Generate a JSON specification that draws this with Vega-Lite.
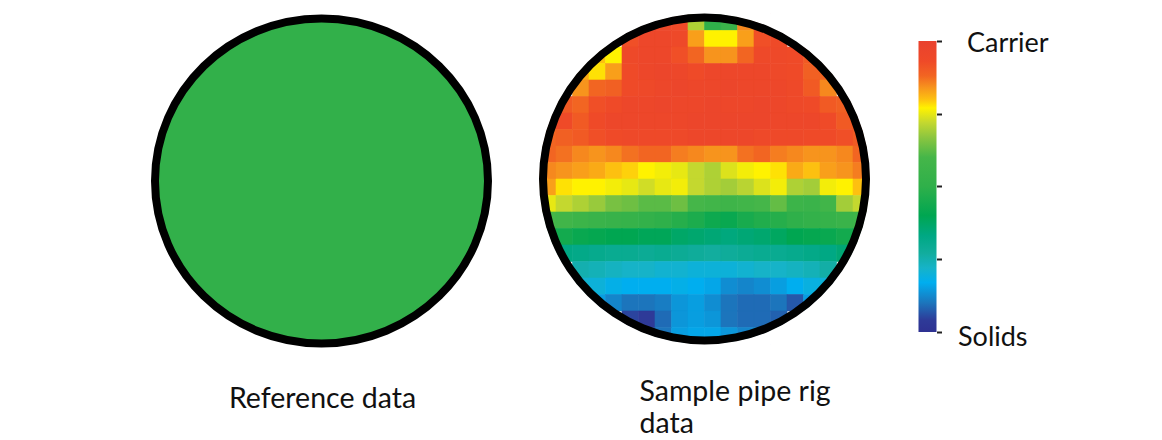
{
  "$schema": "https://vega.github.io/schema/vega-lite/v6.json",
  "background": "white",
  "padding": {"left": 148.5, "top": 0, "right": 0, "bottom": 0},
  "config": {"view": {"stroke": null}, "font": "Lato", "title": {"font": "Lato", "fontWeight": "normal", "color": "#111111", "fontSize": 28.5}},
  "spacing": 45,
  "bounds": "flush",
  "hconcat": [
    {
      "width": 346, "height": 334,
      "title": {"text": "Reference data", "orient": "bottom", "frame": "group", "dx": 1, "offset": 37},
      "data": {"values": [{"name": "reference"}]},
      "mark": {"type": "point", "shape": "M-1,0A1,0.976,0,1,1,1,0A1,0.976,0,1,1,-1,0Z", "size": 110889, "filled": true, "fill": "#32b04a", "stroke": "#000000", "strokeWidth": 8, "strokeJoin": "round", "opacity": 1, "fillOpacity": 1, "strokeOpacity": 1},
      "encoding": {}
    },
    {
      "spacing": 49,
      "bounds": "flush",
      "hconcat": [
        {
          "width": 330, "height": 330,
          "title": {"text": ["Sample pipe rig", "data"], "orient": "bottom", "frame": "group", "anchor": "start", "align": "left", "dx": 100, "offset": 20, "lineHeight": 32},
          "layer": [
            {
              "data": {"values": [
{"c":6,"r":0,"v":0.95},{"c":7,"r":0,"v":0.94},{"c":8,"r":0,"v":0.93},{"c":9,"r":0,"v":0.7},{"c":10,"r":0,"v":0.5},{"c":11,"r":0,"v":0.55},{"c":12,"r":0,"v":0.85},{"c":13,"r":0,"v":0.93},
{"c":5,"r":1,"v":0.92},{"c":6,"r":1,"v":0.95},{"c":7,"r":1,"v":0.95},{"c":8,"r":1,"v":0.94},{"c":9,"r":1,"v":0.83},{"c":10,"r":1,"v":0.77},{"c":11,"r":1,"v":0.77},{"c":12,"r":1,"v":0.83},{"c":13,"r":1,"v":0.92},{"c":14,"r":1,"v":0.93},
{"c":3,"r":2,"v":0.8},{"c":4,"r":2,"v":0.77},{"c":5,"r":2,"v":0.94},{"c":6,"r":2,"v":0.95},{"c":7,"r":2,"v":0.95},{"c":8,"r":2,"v":0.92},{"c":9,"r":2,"v":0.88},{"c":10,"r":2,"v":0.84},{"c":11,"r":2,"v":0.84},{"c":12,"r":2,"v":0.88},{"c":13,"r":2,"v":0.94},{"c":14,"r":2,"v":0.94},{"c":15,"r":2,"v":0.93},{"c":16,"r":2,"v":0.9},
{"c":2,"r":3,"v":0.82},{"c":3,"r":3,"v":0.78},{"c":4,"r":3,"v":0.83},{"c":5,"r":3,"v":0.93},{"c":6,"r":3,"v":0.95},{"c":7,"r":3,"v":0.96},{"c":8,"r":3,"v":0.95},{"c":9,"r":3,"v":0.93},{"c":10,"r":3,"v":0.95},{"c":11,"r":3,"v":0.95},{"c":12,"r":3,"v":0.95},{"c":13,"r":3,"v":0.95},{"c":14,"r":3,"v":0.94},{"c":15,"r":3,"v":0.93},{"c":16,"r":3,"v":0.89},{"c":17,"r":3,"v":0.88},
{"c":2,"r":4,"v":0.84},{"c":3,"r":4,"v":0.88},{"c":4,"r":4,"v":0.89},{"c":5,"r":4,"v":0.93},{"c":6,"r":4,"v":0.94},{"c":7,"r":4,"v":0.95},{"c":8,"r":4,"v":0.96},{"c":9,"r":4,"v":0.95},{"c":10,"r":4,"v":0.95},{"c":11,"r":4,"v":0.96},{"c":12,"r":4,"v":0.95},{"c":13,"r":4,"v":0.95},{"c":14,"r":4,"v":0.95},{"c":15,"r":4,"v":0.94},{"c":16,"r":4,"v":0.9},{"c":17,"r":4,"v":0.85},
{"c":1,"r":5,"v":0.9},{"c":2,"r":5,"v":0.88},{"c":3,"r":5,"v":0.92},{"c":4,"r":5,"v":0.93},{"c":5,"r":5,"v":0.95},{"c":6,"r":5,"v":0.95},{"c":7,"r":5,"v":0.96},{"c":8,"r":5,"v":0.95},{"c":9,"r":5,"v":0.95},{"c":10,"r":5,"v":0.96},{"c":11,"r":5,"v":0.95},{"c":12,"r":5,"v":0.95},{"c":13,"r":5,"v":0.96},{"c":14,"r":5,"v":0.95},{"c":15,"r":5,"v":0.94},{"c":16,"r":5,"v":0.93},{"c":17,"r":5,"v":0.9},{"c":18,"r":5,"v":0.89},
{"c":0,"r":6,"v":0.9},{"c":1,"r":6,"v":0.93},{"c":2,"r":6,"v":0.9},{"c":3,"r":6,"v":0.93},{"c":4,"r":6,"v":0.95},{"c":5,"r":6,"v":0.95},{"c":6,"r":6,"v":0.95},{"c":7,"r":6,"v":0.95},{"c":8,"r":6,"v":0.95},{"c":9,"r":6,"v":0.96},{"c":10,"r":6,"v":0.96},{"c":11,"r":6,"v":0.96},{"c":12,"r":6,"v":0.96},{"c":13,"r":6,"v":0.96},{"c":14,"r":6,"v":0.95},{"c":15,"r":6,"v":0.95},{"c":16,"r":6,"v":0.95},{"c":17,"r":6,"v":0.93},{"c":18,"r":6,"v":0.9},{"c":19,"r":6,"v":0.9},
{"c":0,"r":7,"v":0.88},{"c":1,"r":7,"v":0.89},{"c":2,"r":7,"v":0.9},{"c":3,"r":7,"v":0.92},{"c":4,"r":7,"v":0.93},{"c":5,"r":7,"v":0.94},{"c":6,"r":7,"v":0.94},{"c":7,"r":7,"v":0.94},{"c":8,"r":7,"v":0.94},{"c":9,"r":7,"v":0.95},{"c":10,"r":7,"v":0.95},{"c":11,"r":7,"v":0.95},{"c":12,"r":7,"v":0.95},{"c":13,"r":7,"v":0.94},{"c":14,"r":7,"v":0.94},{"c":15,"r":7,"v":0.94},{"c":16,"r":7,"v":0.93},{"c":17,"r":7,"v":0.93},{"c":18,"r":7,"v":0.92},{"c":19,"r":7,"v":0.9},
{"c":0,"r":8,"v":0.88},{"c":1,"r":8,"v":0.87},{"c":2,"r":8,"v":0.85},{"c":3,"r":8,"v":0.84},{"c":4,"r":8,"v":0.85},{"c":5,"r":8,"v":0.87},{"c":6,"r":8,"v":0.88},{"c":7,"r":8,"v":0.88},{"c":8,"r":8,"v":0.86},{"c":9,"r":8,"v":0.85},{"c":10,"r":8,"v":0.84},{"c":11,"r":8,"v":0.84},{"c":12,"r":8,"v":0.87},{"c":13,"r":8,"v":0.88},{"c":14,"r":8,"v":0.86},{"c":15,"r":8,"v":0.85},{"c":16,"r":8,"v":0.84},{"c":17,"r":8,"v":0.84},{"c":18,"r":8,"v":0.85},{"c":19,"r":8,"v":0.88},
{"c":0,"r":9,"v":0.85},{"c":1,"r":9,"v":0.84},{"c":2,"r":9,"v":0.83},{"c":3,"r":9,"v":0.82},{"c":4,"r":9,"v":0.8},{"c":5,"r":9,"v":0.79},{"c":6,"r":9,"v":0.77},{"c":7,"r":9,"v":0.76},{"c":8,"r":9,"v":0.75},{"c":9,"r":9,"v":0.72},{"c":10,"r":9,"v":0.7},{"c":11,"r":9,"v":0.74},{"c":12,"r":9,"v":0.76},{"c":13,"r":9,"v":0.77},{"c":14,"r":9,"v":0.78},{"c":15,"r":9,"v":0.82},{"c":16,"r":9,"v":0.8},{"c":17,"r":9,"v":0.83},{"c":18,"r":9,"v":0.84},{"c":19,"r":9,"v":0.86},
{"c":0,"r":10,"v":0.83},{"c":1,"r":10,"v":0.78},{"c":2,"r":10,"v":0.77},{"c":3,"r":10,"v":0.77},{"c":4,"r":10,"v":0.76},{"c":5,"r":10,"v":0.75},{"c":6,"r":10,"v":0.73},{"c":7,"r":10,"v":0.75},{"c":8,"r":10,"v":0.76},{"c":9,"r":10,"v":0.72},{"c":10,"r":10,"v":0.7},{"c":11,"r":10,"v":0.69},{"c":12,"r":10,"v":0.71},{"c":13,"r":10,"v":0.74},{"c":14,"r":10,"v":0.76},{"c":15,"r":10,"v":0.7},{"c":16,"r":10,"v":0.69},{"c":17,"r":10,"v":0.76},{"c":18,"r":10,"v":0.77},{"c":19,"r":10,"v":0.8},
{"c":0,"r":11,"v":0.75},{"c":1,"r":11,"v":0.72},{"c":2,"r":11,"v":0.7},{"c":3,"r":11,"v":0.68},{"c":4,"r":11,"v":0.65},{"c":5,"r":11,"v":0.64},{"c":6,"r":11,"v":0.62},{"c":7,"r":11,"v":0.62},{"c":8,"r":11,"v":0.64},{"c":9,"r":11,"v":0.6},{"c":10,"r":11,"v":0.58},{"c":11,"r":11,"v":0.57},{"c":12,"r":11,"v":0.58},{"c":13,"r":11,"v":0.6},{"c":14,"r":11,"v":0.63},{"c":15,"r":11,"v":0.56},{"c":16,"r":11,"v":0.55},{"c":17,"r":11,"v":0.58},{"c":18,"r":11,"v":0.69},{"c":19,"r":11,"v":0.72},
{"c":0,"r":12,"v":0.6},{"c":1,"r":12,"v":0.58},{"c":2,"r":12,"v":0.56},{"c":3,"r":12,"v":0.55},{"c":4,"r":12,"v":0.54},{"c":5,"r":12,"v":0.53},{"c":6,"r":12,"v":0.52},{"c":7,"r":12,"v":0.5},{"c":8,"r":12,"v":0.48},{"c":9,"r":12,"v":0.46},{"c":10,"r":12,"v":0.43},{"c":11,"r":12,"v":0.42},{"c":12,"r":12,"v":0.45},{"c":13,"r":12,"v":0.47},{"c":14,"r":12,"v":0.48},{"c":15,"r":12,"v":0.5},{"c":16,"r":12,"v":0.52},{"c":17,"r":12,"v":0.53},{"c":18,"r":12,"v":0.55},{"c":19,"r":12,"v":0.56},
{"c":0,"r":13,"v":0.46},{"c":1,"r":13,"v":0.44},{"c":2,"r":13,"v":0.42},{"c":3,"r":13,"v":0.41},{"c":4,"r":13,"v":0.4},{"c":5,"r":13,"v":0.4},{"c":6,"r":13,"v":0.39},{"c":7,"r":13,"v":0.39},{"c":8,"r":13,"v":0.37},{"c":9,"r":13,"v":0.36},{"c":10,"r":13,"v":0.35},{"c":11,"r":13,"v":0.34},{"c":12,"r":13,"v":0.35},{"c":13,"r":13,"v":0.36},{"c":14,"r":13,"v":0.38},{"c":15,"r":13,"v":0.4},{"c":16,"r":13,"v":0.41},{"c":17,"r":13,"v":0.42},{"c":18,"r":13,"v":0.44},{"c":19,"r":13,"v":0.45},
{"c":1,"r":14,"v":0.33},{"c":2,"r":14,"v":0.32},{"c":3,"r":14,"v":0.31},{"c":4,"r":14,"v":0.3},{"c":5,"r":14,"v":0.3},{"c":6,"r":14,"v":0.29},{"c":7,"r":14,"v":0.3},{"c":8,"r":14,"v":0.29},{"c":9,"r":14,"v":0.28},{"c":10,"r":14,"v":0.27},{"c":11,"r":14,"v":0.28},{"c":12,"r":14,"v":0.29},{"c":13,"r":14,"v":0.3},{"c":14,"r":14,"v":0.3},{"c":15,"r":14,"v":0.31},{"c":16,"r":14,"v":0.32},{"c":17,"r":14,"v":0.33},{"c":18,"r":14,"v":0.35},
{"c":2,"r":15,"v":0.25},{"c":3,"r":15,"v":0.24},{"c":4,"r":15,"v":0.23},{"c":5,"r":15,"v":0.22},{"c":6,"r":15,"v":0.22},{"c":7,"r":15,"v":0.21},{"c":8,"r":15,"v":0.21},{"c":9,"r":15,"v":0.2},{"c":10,"r":15,"v":0.2},{"c":11,"r":15,"v":0.2},{"c":12,"r":15,"v":0.21},{"c":13,"r":15,"v":0.22},{"c":14,"r":15,"v":0.22},{"c":15,"r":15,"v":0.23},{"c":16,"r":15,"v":0.24},{"c":17,"r":15,"v":0.26},
{"c":2,"r":16,"v":0.21},{"c":3,"r":16,"v":0.2},{"c":4,"r":16,"v":0.18},{"c":5,"r":16,"v":0.17},{"c":6,"r":16,"v":0.17},{"c":7,"r":16,"v":0.17},{"c":8,"r":16,"v":0.18},{"c":9,"r":16,"v":0.17},{"c":10,"r":16,"v":0.16},{"c":11,"r":16,"v":0.13},{"c":12,"r":16,"v":0.12},{"c":13,"r":16,"v":0.13},{"c":14,"r":16,"v":0.15},{"c":15,"r":16,"v":0.17},{"c":16,"r":16,"v":0.19},{"c":17,"r":16,"v":0.2},
{"c":3,"r":17,"v":0.15},{"c":4,"r":17,"v":0.12},{"c":5,"r":17,"v":0.1},{"c":6,"r":17,"v":0.1},{"c":7,"r":17,"v":0.11},{"c":8,"r":17,"v":0.14},{"c":9,"r":17,"v":0.15},{"c":10,"r":17,"v":0.13},{"c":11,"r":17,"v":0.1},{"c":12,"r":17,"v":0.09},{"c":13,"r":17,"v":0.09},{"c":14,"r":17,"v":0.1},{"c":15,"r":17,"v":0.07},{"c":16,"r":17,"v":0.15},
{"c":5,"r":18,"v":0.05},{"c":6,"r":18,"v":0.04},{"c":7,"r":18,"v":0.09},{"c":8,"r":18,"v":0.14},{"c":9,"r":18,"v":0.15},{"c":10,"r":18,"v":0.14},{"c":11,"r":18,"v":0.1},{"c":12,"r":18,"v":0.09},{"c":13,"r":18,"v":0.09},{"c":14,"r":18,"v":0.08},
{"c":6,"r":19,"v":0.06},{"c":7,"r":19,"v":0.1},{"c":8,"r":19,"v":0.15},{"c":9,"r":19,"v":0.16},{"c":10,"r":19,"v":0.16},{"c":11,"r":19,"v":0.14},{"c":12,"r":19,"v":0.12},{"c":13,"r":19,"v":0.12}
              ]},
              "mark": {"type": "rect", "strokeWidth": 0.6},
              "encoding": {
                "x": {"field": "c", "type": "ordinal", "scale": {"domain": [0,1,2,3,4,5,6,7,8,9,10,11,12,13,14,15,16,17,18,19], "paddingInner": 0, "paddingOuter": 0}, "axis": null},
                "y": {"field": "r", "type": "ordinal", "scale": {"domain": [0,1,2,3,4,5,6,7,8,9,10,11,12,13,14,15,16,17,18,19], "paddingInner": 0, "paddingOuter": 0}, "axis": null},
                "fill": {"field": "v", "type": "quantitative", "legend": null, "scale": {"type": "linear", "interpolate": "rgb", "domain": [0, 0.04, 0.1, 0.17, 0.22, 0.27, 0.33, 0.4, 0.5, 0.6, 0.67, 0.72, 0.77, 0.8, 0.84, 0.88, 0.93, 1], "range": ["#2e3192", "#2e3a98", "#1c75bc", "#00aeef", "#16b3c8", "#12ad9e", "#00a884", "#00a651", "#2fb04a", "#45b649", "#8dc63f", "#c4d82f", "#fff200", "#fdc010", "#f7941d", "#f26522", "#ef4a28", "#e9412e"]}},
                "stroke": {"field": "v", "type": "quantitative", "legend": null, "scale": {"type": "linear", "interpolate": "rgb", "domain": [0, 0.04, 0.1, 0.17, 0.22, 0.27, 0.33, 0.4, 0.5, 0.6, 0.67, 0.72, 0.77, 0.8, 0.84, 0.88, 0.93, 1], "range": ["#2e3192", "#2e3a98", "#1c75bc", "#00aeef", "#16b3c8", "#12ad9e", "#00a884", "#00a651", "#2fb04a", "#45b649", "#8dc63f", "#c4d82f", "#fff200", "#fdc010", "#f7941d", "#f26522", "#ef4a28", "#e9412e"]}}
              }
            },
            {
              "data": {"values": [{"name": "mask"}]},
              "mark": {"type": "arc", "theta": 0, "theta2": 6.2832, "innerRadius": 165, "outerRadius": 178.5, "fill": "#ffffff", "opacity": 1},
              "encoding": {}
            },
            {
              "data": {"values": [{"name": "outline"}]},
              "mark": {"type": "arc", "theta": 0, "theta2": 6.2832, "innerRadius": 157.5, "outerRadius": 165.5, "fill": "#000000", "opacity": 1},
              "encoding": {}
            }
          ]
        },
        {
          "width": 18, "height": 330,
          "data": {"values": [{"lo": 0, "hi": 1}]},
          "mark": {"type": "rect", "fill": {"gradient": "linear", "x1": 0, "y1": 1, "x2": 0, "y2": 0, "stops": [
            {"offset": 0, "color": "#2e3192"}, {"offset": 0.04, "color": "#2e3a98"}, {"offset": 0.1, "color": "#1c75bc"}, {"offset": 0.17, "color": "#00aeef"}, {"offset": 0.22, "color": "#16b3c8"}, {"offset": 0.27, "color": "#12ad9e"}, {"offset": 0.33, "color": "#00a884"}, {"offset": 0.4, "color": "#00a651"}, {"offset": 0.5, "color": "#2fb04a"}, {"offset": 0.6, "color": "#45b649"}, {"offset": 0.67, "color": "#8dc63f"}, {"offset": 0.72, "color": "#c4d82f"}, {"offset": 0.77, "color": "#fff200"}, {"offset": 0.8, "color": "#fdc010"}, {"offset": 0.84, "color": "#f7941d"}, {"offset": 0.88, "color": "#f26522"}, {"offset": 0.93, "color": "#ef4a28"}, {"offset": 1, "color": "#e9412e"}]}},
          "encoding": {
            "y": {"field": "lo", "type": "quantitative", "scale": {"domain": [-0.04124, 1.09278], "nice": false, "zero": false},
              "axis": {"orient": "right", "title": null, "values": [0, 0.25, 0.5, 0.75, 1], "labelExpr": "datum.value == 1 ? 'Carrier' : (datum.value == 0 ? 'Solids' : '')", "domain": false, "grid": false, "ticks": true, "tickSize": 5, "tickWidth": 2, "tickColor": "#222222", "labelFont": "Lato", "labelFontSize": 27, "labelColor": "#111111", "labelAlign": "left", "labelBaseline": "middle", "labelPadding": {"condition": {"test": "datum.value == 0", "value": 16}, "value": 25}, "labelOffset": {"condition": {"test": "datum.value == 0", "value": 6}, "value": 3}, "labelBound": false, "labelOverlap": false, "labelFlush": false}},
            "y2": {"field": "hi"}
          }
        }
      ]
    }
  ]
}
